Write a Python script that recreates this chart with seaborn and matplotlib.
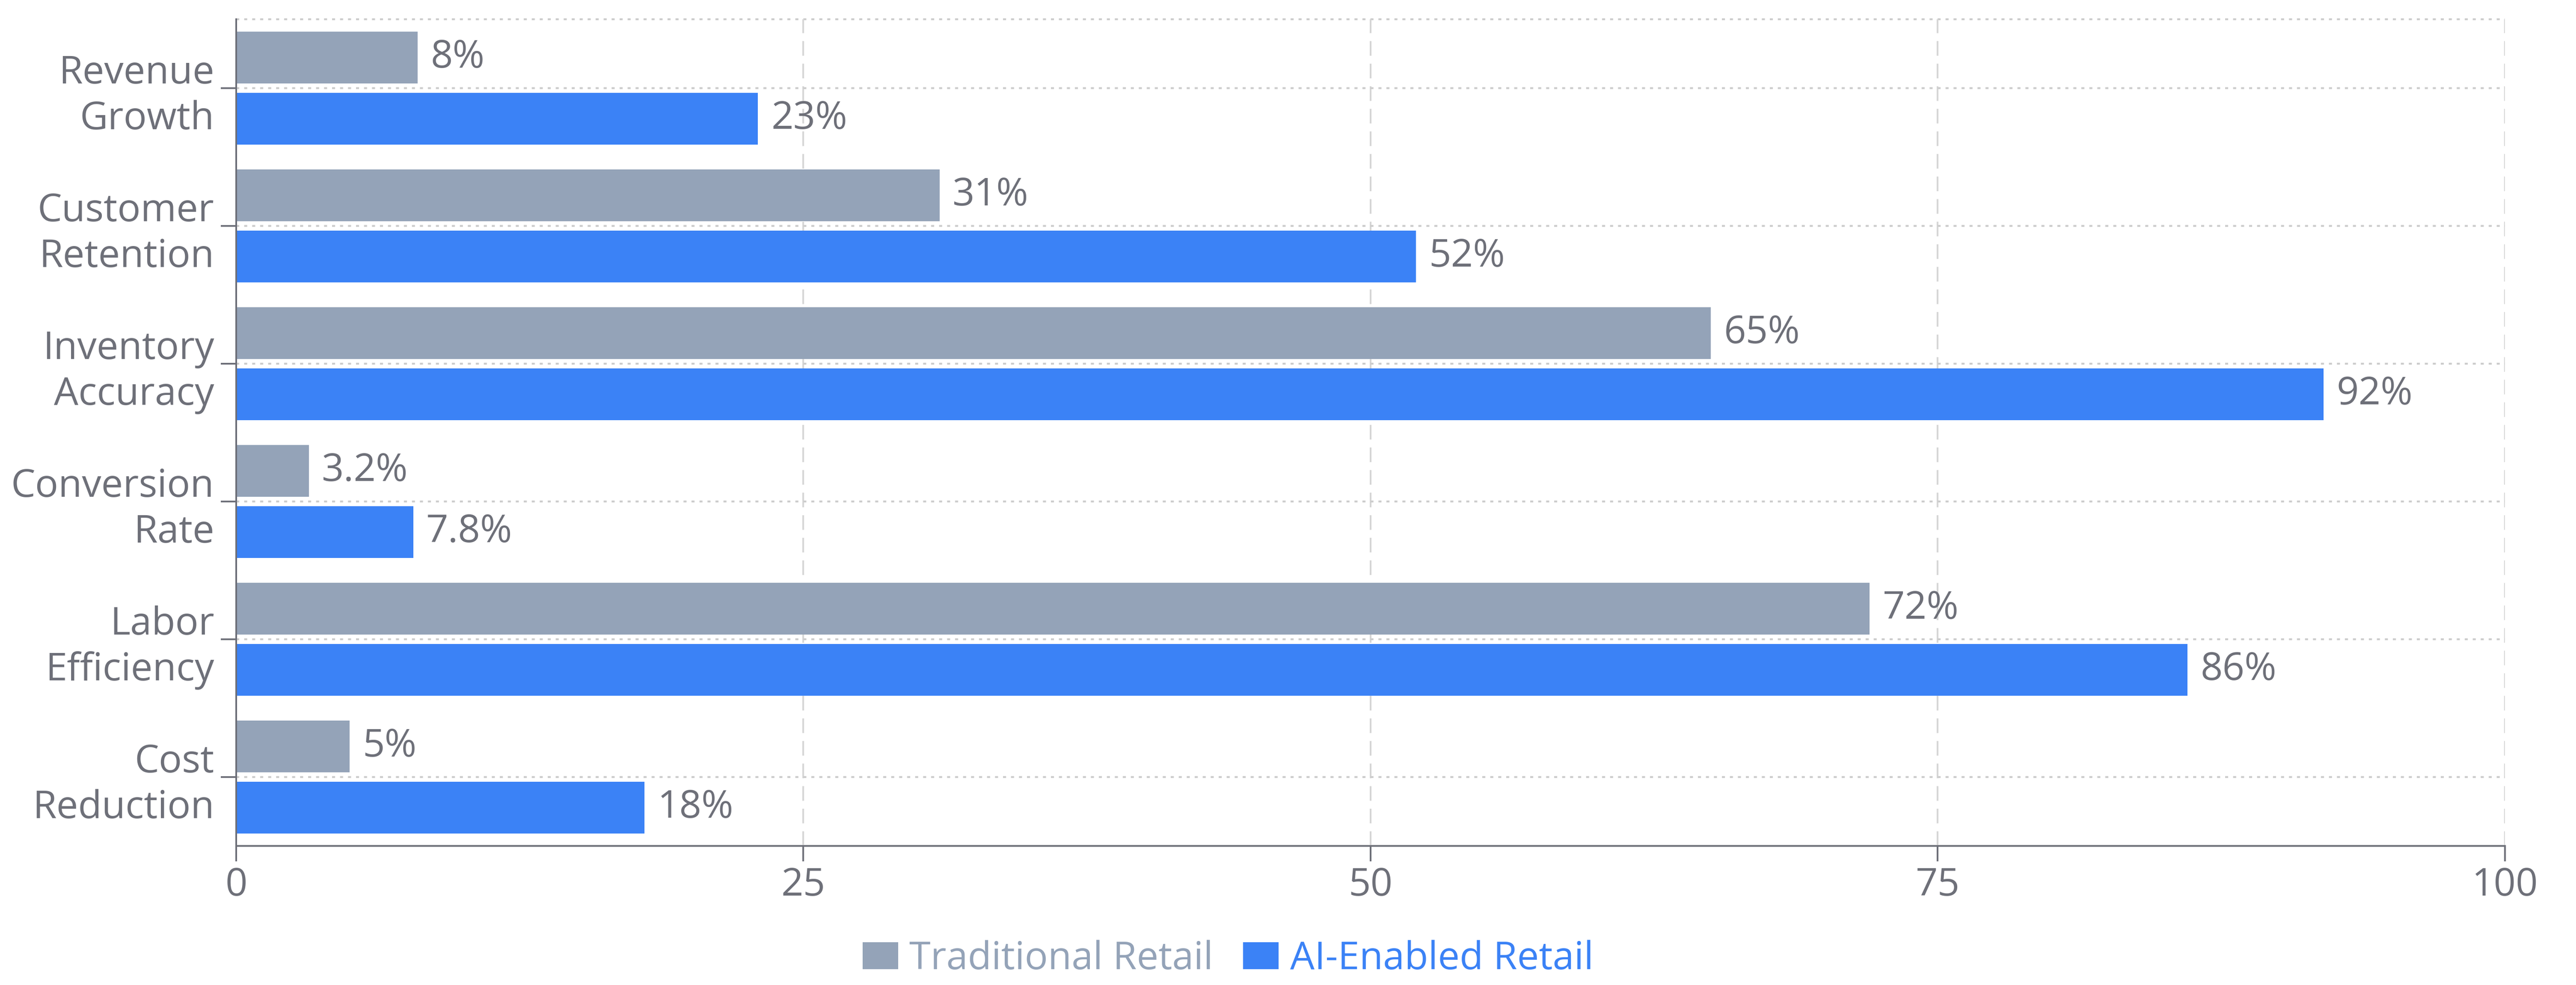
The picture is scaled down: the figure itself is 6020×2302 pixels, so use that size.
import matplotlib
matplotlib.use("Agg")
import matplotlib.pyplot as plt
import seaborn as sns
import pandas as pd

# Retail performance metrics, traditional vs AI-enabled (percent)
categories = [
    "Revenue\nGrowth",
    "Customer\nRetention",
    "Inventory\nAccuracy",
    "Conversion\nRate",
    "Labor\nEfficiency",
    "Cost\nReduction",
]
series_names = ["Traditional Retail", "AI-Enabled Retail"]
traditional = [8, 31, 65, 3.2, 72, 5]
ai_enabled = [23, 52, 92, 7.8, 86, 18]
x_ticks = [0, 25, 50, 75, 100]

palette = {"Traditional Retail": "#94A3B8", "AI-Enabled Retail": "#3B82F6"}

df = pd.DataFrame({
    "metric": categories * 2,
    "retail": [series_names[0]] * len(categories) + [series_names[1]] * len(categories),
    "value": traditional + ai_enabled,
})

sns.set_theme(style="white")
plt.rcParams["font.family"] = ["Open Sans", "DejaVu Sans"]

AXIS_COLOR = "#6E7079"
FS = 65

fig = plt.figure(figsize=(60.2, 23.02), dpi=100)
ax = fig.add_axes([0.0917, 0.1412, 0.8807, 0.8393])

sns.barplot(
    data=df, y="metric", x="value", hue="retail",
    order=categories, hue_order=series_names, palette=palette,
    orient="h", width=0.888, gap=0.155, saturation=1,
    linewidth=0, ax=ax,
)

ax.set_xlim(0, 100)
ax.set_ylim(len(categories) - 0.5, -0.5)
ax.set_xticks(x_ticks)
ax.set_xticklabels([str(t) for t in x_ticks])
ax.set_yticks(range(len(categories)))
ax.set_yticklabels(categories, linespacing=1.24)
ax.set_xlabel("")
ax.set_ylabel("")

# grid: dashed verticals at value ticks, dotted horizontals at category centres
ax.set_axisbelow(True)
ax.xaxis.grid(True, color="#d6d6d6", linewidth=2.9, linestyle=(0, (8.5, 4.6)))
ax.yaxis.grid(True, color="#cccccc", linewidth=3.2, linestyle=(0, (1.6, 2.6)))
ax.axhline(-0.5, color="#cccccc", linewidth=3.2, linestyle=(0, (1.6, 2.6)),
           clip_on=False, zorder=0)

for side in ("top", "right"):
    ax.spines[side].set_visible(False)
for side in ("left", "bottom"):
    ax.spines[side].set_color(AXIS_COLOR)
    ax.spines[side].set_linewidth(2.9)

ax.tick_params(axis="both", bottom=True, left=True, length=26, width=2.9,
               color=AXIS_COLOR, labelsize=FS, labelcolor=AXIS_COLOR)
ax.tick_params(axis="x", pad=8)
ax.tick_params(axis="y", pad=11)

# value labels at the end of each bar
for container in ax.containers:
    ax.bar_label(container, labels=[f"{v:g}%" for v in container.datavalues],
                 padding=22, color="#6E7079", fontsize=FS)

handles, labels = ax.get_legend_handles_labels()
if ax.get_legend() is not None:
    ax.get_legend().remove()
leg = fig.legend(
    handles, labels, loc="center", bbox_to_anchor=(0.4767, 0.026), ncol=2,
    frameon=False, fontsize=FS, handlelength=0.92, handleheight=0.69,
    handletextpad=0.29, columnspacing=0.78,
)
for text, name in zip(leg.get_texts(), labels):
    text.set_color(palette[name])

fig.savefig("out.png", dpi=100, facecolor="white")
